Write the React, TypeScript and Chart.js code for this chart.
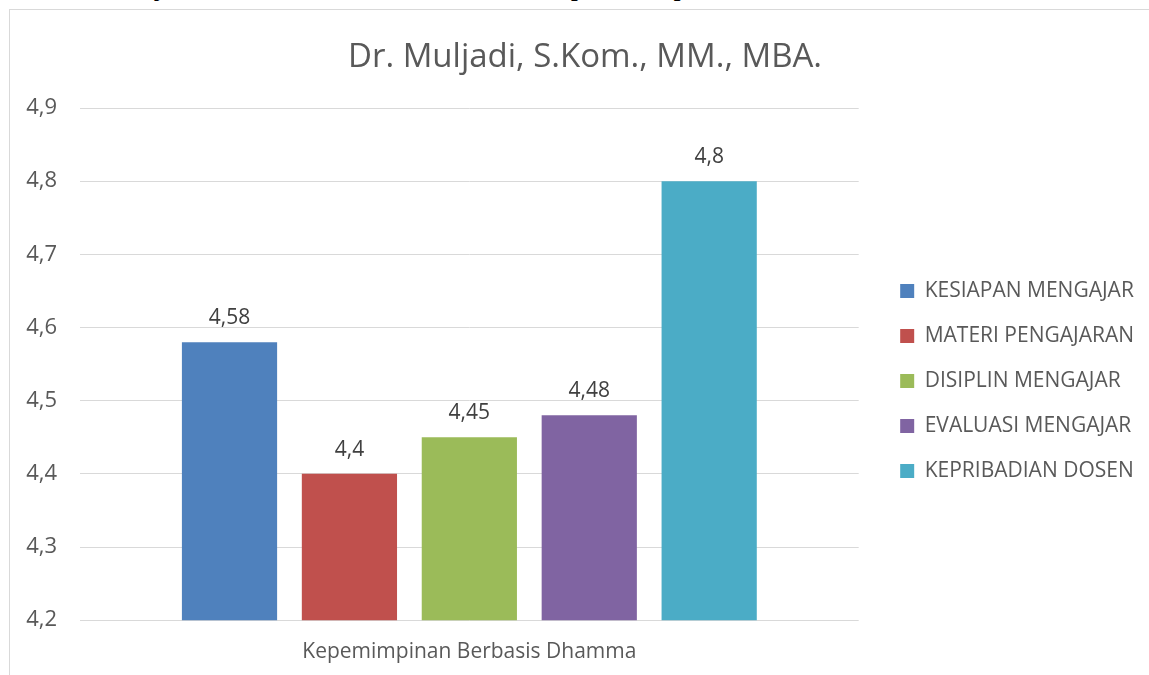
import React, { useEffect, useRef } from "react";
import { Chart, registerables } from "chart.js";

Chart.register(...registerables);

const categories = ["Kepemimpinan Berbasis Dhamma"];
const seriesNames = [
  "KESIAPAN MENGAJAR",
  "MATERI PENGAJARAN",
  "DISIPLIN MENGAJAR",
  "EVALUASI MENGAJAR",
  "KEPRIBADIAN DOSEN",
];
const seriesValues = [4.58, 4.4, 4.45, 4.48, 4.8];
const seriesColors = ["#4f81bd", "#c0504d", "#9bbb59", "#8064a2", "#4bacc6"];
const yTicks = [4.2, 4.3, 4.4, 4.5, 4.6, 4.7, 4.8, 4.9];
const chartTitle = "Dr. Muljadi, S.Kom., MM., MBA.";
const headerText = "Dr. Muljadi, S.Kom., MM., MBA. Aspek Kepribadian";

const FONT = "'Open Sans', 'DejaVu Sans', sans-serif";
const fmt = (v: number) => String(v).replace(".", ",");

const dataLabels = {
  id: "dataLabels",
  afterDatasetsDraw(chart: any) {
    const ctx = chart.ctx;
    ctx.save();
    ctx.font = `21px ${FONT}`;
    ctx.fillStyle = "#404040";
    ctx.textAlign = "center";
    ctx.textBaseline = "alphabetic";
    chart.data.datasets.forEach((ds: any, i: number) => {
      const meta = chart.getDatasetMeta(i);
      meta.data.forEach((bar: any, j: number) => {
        ctx.fillText(fmt(ds.data[j]), bar.x, bar.y - 18);
      });
    });
    ctx.restore();
  },
};

export default function App() {
  const ref = useRef<HTMLCanvasElement>(null);
  useEffect(() => {
    if (!ref.current) return;
    const chart = new Chart(ref.current, {
      type: "bar",
      data: {
        labels: categories,
        datasets: seriesNames.map((name, i) => ({
          label: name,
          data: [seriesValues[i]],
          backgroundColor: seriesColors[i],
          borderWidth: 0,
          categoryPercentage: 0.77,
          barPercentage: 0.794,
        })),
      },
      options: {
        animation: false,
        responsive: false,
        layout: { padding: { left: 16, right: 16, top: 0, bottom: 12.6 } },
        plugins: {
          title: {
            display: true,
            text: chartTitle,
            color: "#595959",
            font: { family: FONT, size: 33, weight: "normal" },
            padding: { top: 28, bottom: 30.4 },
          },
          legend: {
            position: "right",
            fullSize: false,
            align: "start",
            maxWidth: 400,
            title: { display: true, text: "", padding: { top: 134, bottom: 0 } },
            labels: {
              boxWidth: 14,
              boxHeight: 14,
              padding: 24,
              color: "#595959",
              font: { family: FONT, size: 21 },
            },
          },
          tooltip: { enabled: false },
        },
        scales: {
          x: {
            grid: { display: false, drawTicks: false },
            border: { display: false },
            ticks: {
              color: "#595959",
              font: { family: FONT, size: 21 },
              padding: 19,
            },
          },
          y: {
            min: 4.2,
            max: 4.9,
            afterBuildTicks: (s: any) => {
              s.ticks = yTicks.map((v) => ({ value: v }));
            },
            afterFit: (s: any) => {
              s.width = 54;
            },
            grid: { color: "#d9d9d9", lineWidth: 1, drawTicks: false },
            border: { display: false },
            ticks: {
              color: "#595959",
              font: { family: FONT, size: 22 },
              padding: 23,
              callback: (v: any) => Number(v).toFixed(1).replace(".", ","),
            },
          },
          y2: {
            position: "right",
            display: true,
            grid: { display: false, drawTicks: false },
            border: { display: false },
            ticks: { display: false },
            afterFit: (s: any) => {
              s.width = 17.5;
            },
          },
        },
      } as any,
      plugins: [dataLabels],
    });
    return () => chart.destroy();
  }, []);

  return (
    <div style={{ position: "fixed", inset: 0, overflow: "hidden", background: "#fff" }}>
      <div
        style={{
          position: "absolute",
          left: 44,
          top: -24,
          font: "bold 24px 'Liberation Serif', serif",
          lineHeight: "24px",
          wordSpacing: "30px",
          whiteSpace: "nowrap",
          color: "#000",
        }}
      >
        {headerText}
      </div>
      <div
        style={{
          position: "absolute",
          left: 9,
          top: 9,
          width: 1200,
          height: 720,
          borderLeft: "1px solid #d9d9d9",
          borderTop: "1px solid #d9d9d9",
          boxSizing: "border-box",
        }}
      >
        <canvas ref={ref} width={1150} height={686} style={{ display: "block" }} />
      </div>
    </div>
  );
}
